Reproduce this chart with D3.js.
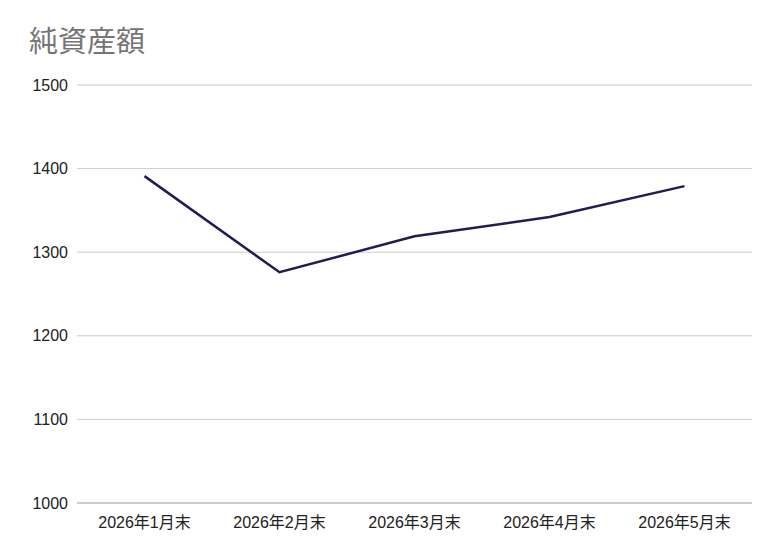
<!DOCTYPE html>
<html><head><meta charset="utf-8">
<script src="https://cdn.jsdelivr.net/npm/d3@7"></script>
<style>body{margin:0;background:#fff}</style>
</head><body>
<svg id="chart" width="780" height="558"></svg>
<script>
var categories = ["2026年1月末", "2026年2月末", "2026年3月末", "2026年4月末", "2026年5月末"];
var netAssets = [1391, 1276, 1319, 1342, 1379];
var yTicks = [1000, 1100, 1200, 1300, 1400, 1500];

var margin = {top: 85, right: 28, bottom: 55, left: 77};
var width = 780 - margin.left - margin.right;
var height = 558 - margin.top - margin.bottom;
var font = "'Liberation Sans', 'Noto Sans CJK JP', Arial, sans-serif";

var svg = d3.select("#chart");
svg.append("text")
    .attr("x", 29).attr("y", 52)
    .attr("fill", "#757575")
    .style("font-family", "'Noto Sans CJK JP', sans-serif").style("font-size", "29px")
    .text("純資産額");

var g = svg.append("g").attr("transform", `translate(${margin.left},${margin.top})`);

var x = d3.scaleBand().domain(categories).range([0, width]);
var y = d3.scaleLinear().domain([1000, 1500]).range([height, 0]);

// gridlines
g.selectAll(".grid").data(yTicks).enter().append("line")
    .attr("x1", 0).attr("x2", width)
    .attr("y1", d => y(d)).attr("y2", d => y(d))
    .attr("stroke", d => d === 1000 ? "#999" : "#ccc").attr("stroke-width", 1);

// y labels
g.selectAll(".ylab").data(yTicks).enter().append("text")
    .attr("x", -9).attr("y", d => y(d)).attr("dy", "0.35em")
    .attr("text-anchor", "end")
    .style("font-family", font).style("font-size", "16px")
    .attr("fill", "#222")
    .text(d => d);

// x labels
g.selectAll(".xlab").data(categories).enter().append("text")
    .attr("x", d => x(d) + x.bandwidth() / 2).attr("y", height + 25)
    .attr("text-anchor", "middle")
    .style("font-family", font).style("font-size", "16px")
    .attr("fill", "#222")
    .text(d => d);

var line = d3.line()
    .x((d, i) => x(categories[i]) + x.bandwidth() / 2)
    .y(d => y(d));

g.append("path").datum(netAssets)
    .attr("d", line)
    .attr("fill", "none")
    .attr("stroke", "#231b52")
    .attr("stroke-width", 2.5);
</script>
</body></html>
